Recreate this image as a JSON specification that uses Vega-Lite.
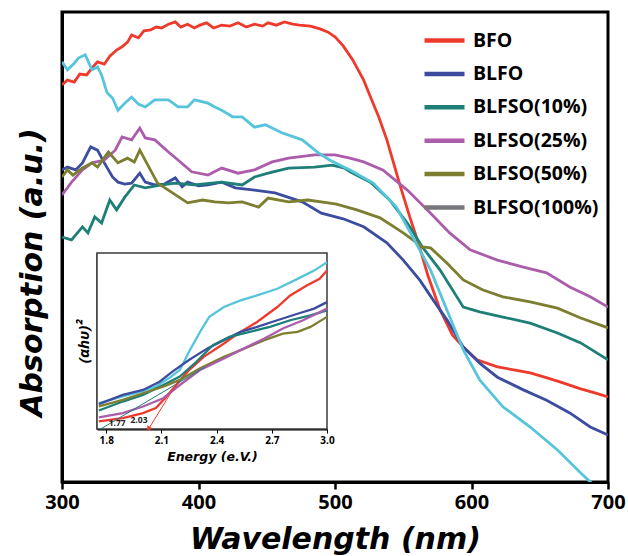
{
  "$schema": "https://vega.github.io/schema/vega-lite/v6.json",
  "width": 546,
  "height": 470,
  "autosize": "none",
  "padding": {"left": 62, "top": 12, "right": 20, "bottom": 74},
  "background": "white",
  "config": {
    "view": {"stroke": "black", "strokeWidth": 3},
    "font": "Open Sans",
    "axis": {"grid": false, "labelColor": "black", "titleColor": "black"}
  },
  "datasets": {
    "main": [
      {"s": "BFO", "w": 300, "a": 84.5}, {"s": "BFO", "w": 304, "a": 85.5}, {"s": "BFO", "w": 309, "a": 85.1}, {"s": "BFO", "w": 313, "a": 86.8}, {"s": "BFO", "w": 318, "a": 86.6}, {"s": "BFO", "w": 322, "a": 88.1}, {"s": "BFO", "w": 326, "a": 89.4}, {"s": "BFO", "w": 331, "a": 88.9}, {"s": "BFO", "w": 335, "a": 90.6}, {"s": "BFO", "w": 340, "a": 91.9}, {"s": "BFO", "w": 344, "a": 92.6}, {"s": "BFO", "w": 348, "a": 93.6}, {"s": "BFO", "w": 351, "a": 95.1}, {"s": "BFO", "w": 356, "a": 94.5}, {"s": "BFO", "w": 360, "a": 96.0}, {"s": "BFO", "w": 365, "a": 96.2}, {"s": "BFO", "w": 369, "a": 96.8}, {"s": "BFO", "w": 373, "a": 96.6}, {"s": "BFO", "w": 378, "a": 97.4}, {"s": "BFO", "w": 383, "a": 97.9}, {"s": "BFO", "w": 387, "a": 96.8}, {"s": "BFO", "w": 392, "a": 97.4}, {"s": "BFO", "w": 397, "a": 96.6}, {"s": "BFO", "w": 401, "a": 97.2}, {"s": "BFO", "w": 406, "a": 97.7}, {"s": "BFO", "w": 411, "a": 96.6}, {"s": "BFO", "w": 417, "a": 97.2}, {"s": "BFO", "w": 423, "a": 97.0}, {"s": "BFO", "w": 429, "a": 97.7}, {"s": "BFO", "w": 435, "a": 96.8}, {"s": "BFO", "w": 441, "a": 97.4}, {"s": "BFO", "w": 447, "a": 97.0}, {"s": "BFO", "w": 451, "a": 97.7}, {"s": "BFO", "w": 457, "a": 97.2}, {"s": "BFO", "w": 463, "a": 97.9}, {"s": "BFO", "w": 469, "a": 97.4}, {"s": "BFO", "w": 474, "a": 97.2}, {"s": "BFO", "w": 482, "a": 97.0}, {"s": "BFO", "w": 489, "a": 96.4}, {"s": "BFO", "w": 495, "a": 95.7}, {"s": "BFO", "w": 500, "a": 94.7}, {"s": "BFO", "w": 506, "a": 92.8}, {"s": "BFO", "w": 513, "a": 89.8}, {"s": "BFO", "w": 521, "a": 85.5}, {"s": "BFO", "w": 526, "a": 81.9}, {"s": "BFO", "w": 532, "a": 77.7}, {"s": "BFO", "w": 538, "a": 72.8}, {"s": "BFO", "w": 548, "a": 62.8}, {"s": "BFO", "w": 555, "a": 56.2}, {"s": "BFO", "w": 561, "a": 50.9}, {"s": "BFO", "w": 568, "a": 44.0}, {"s": "BFO", "w": 577, "a": 36.6}, {"s": "BFO", "w": 586, "a": 31.3}, {"s": "BFO", "w": 594, "a": 28.7}, {"s": "BFO", "w": 604, "a": 26.0}, {"s": "BFO", "w": 619, "a": 24.5}, {"s": "BFO", "w": 632, "a": 23.8}, {"s": "BFO", "w": 643, "a": 23.2}, {"s": "BFO", "w": 656, "a": 22.1}, {"s": "BFO", "w": 667, "a": 21.1}, {"s": "BFO", "w": 680, "a": 19.8}, {"s": "BFO", "w": 691, "a": 18.9}, {"s": "BFO", "w": 700, "a": 18.1},
      {"s": "BLFO", "w": 300, "a": 66.4}, {"s": "BLFO", "w": 304, "a": 67.0}, {"s": "BLFO", "w": 310, "a": 66.4}, {"s": "BLFO", "w": 315, "a": 67.9}, {"s": "BLFO", "w": 321, "a": 71.3}, {"s": "BLFO", "w": 326, "a": 70.6}, {"s": "BLFO", "w": 331, "a": 67.9}, {"s": "BLFO", "w": 337, "a": 64.9}, {"s": "BLFO", "w": 341, "a": 63.8}, {"s": "BLFO", "w": 346, "a": 63.4}, {"s": "BLFO", "w": 351, "a": 63.6}, {"s": "BLFO", "w": 357, "a": 65.7}, {"s": "BLFO", "w": 361, "a": 63.8}, {"s": "BLFO", "w": 368, "a": 63.2}, {"s": "BLFO", "w": 375, "a": 63.4}, {"s": "BLFO", "w": 383, "a": 64.7}, {"s": "BLFO", "w": 388, "a": 62.8}, {"s": "BLFO", "w": 392, "a": 63.8}, {"s": "BLFO", "w": 400, "a": 63.0}, {"s": "BLFO", "w": 407, "a": 63.2}, {"s": "BLFO", "w": 417, "a": 63.8}, {"s": "BLFO", "w": 427, "a": 62.6}, {"s": "BLFO", "w": 441, "a": 62.1}, {"s": "BLFO", "w": 456, "a": 61.5}, {"s": "BLFO", "w": 476, "a": 59.6}, {"s": "BLFO", "w": 490, "a": 57.2}, {"s": "BLFO", "w": 506, "a": 56.0}, {"s": "BLFO", "w": 521, "a": 54.3}, {"s": "BLFO", "w": 538, "a": 50.9}, {"s": "BLFO", "w": 550, "a": 47.2}, {"s": "BLFO", "w": 562, "a": 43.0}, {"s": "BLFO", "w": 572, "a": 38.7}, {"s": "BLFO", "w": 582, "a": 34.5}, {"s": "BLFO", "w": 594, "a": 28.7}, {"s": "BLFO", "w": 606, "a": 25.3}, {"s": "BLFO", "w": 619, "a": 22.3}, {"s": "BLFO", "w": 638, "a": 19.6}, {"s": "BLFO", "w": 655, "a": 17.4}, {"s": "BLFO", "w": 672, "a": 14.7}, {"s": "BLFO", "w": 687, "a": 11.7}, {"s": "BLFO", "w": 700, "a": 10.0},
      {"s": "BLFSO(10%)", "w": 300, "a": 52.1}, {"s": "BLFSO(10%)", "w": 307, "a": 51.5}, {"s": "BLFSO(10%)", "w": 315, "a": 54.3}, {"s": "BLFSO(10%)", "w": 319, "a": 53.0}, {"s": "BLFSO(10%)", "w": 324, "a": 56.4}, {"s": "BLFSO(10%)", "w": 329, "a": 55.1}, {"s": "BLFSO(10%)", "w": 335, "a": 60.0}, {"s": "BLFSO(10%)", "w": 340, "a": 57.9}, {"s": "BLFSO(10%)", "w": 346, "a": 60.6}, {"s": "BLFSO(10%)", "w": 353, "a": 63.2}, {"s": "BLFSO(10%)", "w": 361, "a": 62.6}, {"s": "BLFSO(10%)", "w": 373, "a": 63.2}, {"s": "BLFSO(10%)", "w": 383, "a": 63.6}, {"s": "BLFSO(10%)", "w": 397, "a": 63.2}, {"s": "BLFSO(10%)", "w": 417, "a": 63.8}, {"s": "BLFSO(10%)", "w": 432, "a": 63.2}, {"s": "BLFSO(10%)", "w": 441, "a": 64.9}, {"s": "BLFSO(10%)", "w": 451, "a": 65.7}, {"s": "BLFSO(10%)", "w": 466, "a": 66.8}, {"s": "BLFSO(10%)", "w": 485, "a": 67.0}, {"s": "BLFSO(10%)", "w": 498, "a": 67.4}, {"s": "BLFSO(10%)", "w": 507, "a": 66.8}, {"s": "BLFSO(10%)", "w": 511, "a": 66.0}, {"s": "BLFSO(10%)", "w": 526, "a": 63.8}, {"s": "BLFSO(10%)", "w": 540, "a": 60.0}, {"s": "BLFSO(10%)", "w": 553, "a": 55.1}, {"s": "BLFSO(10%)", "w": 564, "a": 50.0}, {"s": "BLFSO(10%)", "w": 577, "a": 45.1}, {"s": "BLFSO(10%)", "w": 594, "a": 37.2}, {"s": "BLFSO(10%)", "w": 606, "a": 36.2}, {"s": "BLFSO(10%)", "w": 623, "a": 35.1}, {"s": "BLFSO(10%)", "w": 643, "a": 33.8}, {"s": "BLFSO(10%)", "w": 663, "a": 31.7}, {"s": "BLFSO(10%)", "w": 680, "a": 29.6}, {"s": "BLFSO(10%)", "w": 700, "a": 26.0},
      {"s": "BLFSO(25%)", "w": 300, "a": 61.1}, {"s": "BLFSO(25%)", "w": 304, "a": 62.6}, {"s": "BLFSO(25%)", "w": 307, "a": 63.8}, {"s": "BLFSO(25%)", "w": 315, "a": 66.4}, {"s": "BLFSO(25%)", "w": 322, "a": 67.9}, {"s": "BLFSO(25%)", "w": 331, "a": 68.5}, {"s": "BLFSO(25%)", "w": 339, "a": 70.6}, {"s": "BLFSO(25%)", "w": 344, "a": 73.4}, {"s": "BLFSO(25%)", "w": 351, "a": 72.8}, {"s": "BLFSO(25%)", "w": 357, "a": 75.3}, {"s": "BLFSO(25%)", "w": 361, "a": 73.2}, {"s": "BLFSO(25%)", "w": 368, "a": 72.8}, {"s": "BLFSO(25%)", "w": 378, "a": 70.2}, {"s": "BLFSO(25%)", "w": 385, "a": 68.5}, {"s": "BLFSO(25%)", "w": 395, "a": 66.0}, {"s": "BLFSO(25%)", "w": 407, "a": 65.3}, {"s": "BLFSO(25%)", "w": 417, "a": 66.8}, {"s": "BLFSO(25%)", "w": 429, "a": 65.7}, {"s": "BLFSO(25%)", "w": 441, "a": 66.4}, {"s": "BLFSO(25%)", "w": 454, "a": 68.1}, {"s": "BLFSO(25%)", "w": 466, "a": 68.9}, {"s": "BLFSO(25%)", "w": 485, "a": 69.6}, {"s": "BLFSO(25%)", "w": 500, "a": 69.6}, {"s": "BLFSO(25%)", "w": 511, "a": 68.9}, {"s": "BLFSO(25%)", "w": 521, "a": 68.1}, {"s": "BLFSO(25%)", "w": 535, "a": 66.4}, {"s": "BLFSO(25%)", "w": 553, "a": 62.1}, {"s": "BLFSO(25%)", "w": 570, "a": 57.2}, {"s": "BLFSO(25%)", "w": 584, "a": 53.0}, {"s": "BLFSO(25%)", "w": 599, "a": 49.4}, {"s": "BLFSO(25%)", "w": 619, "a": 47.2}, {"s": "BLFSO(25%)", "w": 638, "a": 45.7}, {"s": "BLFSO(25%)", "w": 655, "a": 44.5}, {"s": "BLFSO(25%)", "w": 672, "a": 41.5}, {"s": "BLFSO(25%)", "w": 687, "a": 39.4}, {"s": "BLFSO(25%)", "w": 700, "a": 37.2},
      {"s": "BLFSO(50%)", "w": 300, "a": 64.9}, {"s": "BLFSO(50%)", "w": 304, "a": 66.4}, {"s": "BLFSO(50%)", "w": 308, "a": 65.3}, {"s": "BLFSO(50%)", "w": 315, "a": 66.8}, {"s": "BLFSO(50%)", "w": 322, "a": 67.9}, {"s": "BLFSO(50%)", "w": 326, "a": 67.0}, {"s": "BLFSO(50%)", "w": 334, "a": 70.2}, {"s": "BLFSO(50%)", "w": 341, "a": 67.9}, {"s": "BLFSO(50%)", "w": 348, "a": 68.9}, {"s": "BLFSO(50%)", "w": 353, "a": 68.1}, {"s": "BLFSO(50%)", "w": 357, "a": 70.6}, {"s": "BLFSO(50%)", "w": 362, "a": 67.9}, {"s": "BLFSO(50%)", "w": 370, "a": 63.6}, {"s": "BLFSO(50%)", "w": 381, "a": 61.5}, {"s": "BLFSO(50%)", "w": 392, "a": 59.4}, {"s": "BLFSO(50%)", "w": 403, "a": 60.0}, {"s": "BLFSO(50%)", "w": 412, "a": 59.6}, {"s": "BLFSO(50%)", "w": 422, "a": 59.4}, {"s": "BLFSO(50%)", "w": 432, "a": 59.6}, {"s": "BLFSO(50%)", "w": 444, "a": 58.5}, {"s": "BLFSO(50%)", "w": 451, "a": 60.4}, {"s": "BLFSO(50%)", "w": 466, "a": 59.6}, {"s": "BLFSO(50%)", "w": 480, "a": 60.0}, {"s": "BLFSO(50%)", "w": 495, "a": 59.4}, {"s": "BLFSO(50%)", "w": 501, "a": 59.1}, {"s": "BLFSO(50%)", "w": 516, "a": 57.9}, {"s": "BLFSO(50%)", "w": 533, "a": 56.2}, {"s": "BLFSO(50%)", "w": 550, "a": 53.0}, {"s": "BLFSO(50%)", "w": 564, "a": 50.0}, {"s": "BLFSO(50%)", "w": 570, "a": 49.8}, {"s": "BLFSO(50%)", "w": 582, "a": 46.6}, {"s": "BLFSO(50%)", "w": 594, "a": 43.0}, {"s": "BLFSO(50%)", "w": 608, "a": 40.9}, {"s": "BLFSO(50%)", "w": 623, "a": 39.4}, {"s": "BLFSO(50%)", "w": 643, "a": 38.3}, {"s": "BLFSO(50%)", "w": 663, "a": 37.0}, {"s": "BLFSO(50%)", "w": 680, "a": 34.9}, {"s": "BLFSO(50%)", "w": 700, "a": 32.8},
      {"s": "BLFSO(100%)", "w": 300, "a": 89.4}, {"s": "BLFSO(100%)", "w": 304, "a": 87.7}, {"s": "BLFSO(100%)", "w": 309, "a": 89.1}, {"s": "BLFSO(100%)", "w": 312, "a": 90.2}, {"s": "BLFSO(100%)", "w": 317, "a": 90.9}, {"s": "BLFSO(100%)", "w": 322, "a": 87.7}, {"s": "BLFSO(100%)", "w": 326, "a": 88.3}, {"s": "BLFSO(100%)", "w": 329, "a": 86.6}, {"s": "BLFSO(100%)", "w": 333, "a": 82.8}, {"s": "BLFSO(100%)", "w": 337, "a": 81.7}, {"s": "BLFSO(100%)", "w": 341, "a": 79.1}, {"s": "BLFSO(100%)", "w": 346, "a": 80.6}, {"s": "BLFSO(100%)", "w": 351, "a": 81.9}, {"s": "BLFSO(100%)", "w": 356, "a": 80.4}, {"s": "BLFSO(100%)", "w": 361, "a": 79.8}, {"s": "BLFSO(100%)", "w": 368, "a": 81.3}, {"s": "BLFSO(100%)", "w": 378, "a": 81.3}, {"s": "BLFSO(100%)", "w": 385, "a": 79.8}, {"s": "BLFSO(100%)", "w": 392, "a": 79.8}, {"s": "BLFSO(100%)", "w": 397, "a": 81.3}, {"s": "BLFSO(100%)", "w": 407, "a": 80.6}, {"s": "BLFSO(100%)", "w": 412, "a": 79.8}, {"s": "BLFSO(100%)", "w": 417, "a": 79.1}, {"s": "BLFSO(100%)", "w": 425, "a": 77.7}, {"s": "BLFSO(100%)", "w": 432, "a": 77.7}, {"s": "BLFSO(100%)", "w": 441, "a": 75.5}, {"s": "BLFSO(100%)", "w": 449, "a": 76.0}, {"s": "BLFSO(100%)", "w": 461, "a": 74.3}, {"s": "BLFSO(100%)", "w": 476, "a": 72.8}, {"s": "BLFSO(100%)", "w": 488, "a": 70.0}, {"s": "BLFSO(100%)", "w": 496, "a": 68.5}, {"s": "BLFSO(100%)", "w": 511, "a": 66.4}, {"s": "BLFSO(100%)", "w": 528, "a": 63.6}, {"s": "BLFSO(100%)", "w": 545, "a": 58.5}, {"s": "BLFSO(100%)", "w": 557, "a": 52.1}, {"s": "BLFSO(100%)", "w": 570, "a": 45.1}, {"s": "BLFSO(100%)", "w": 582, "a": 36.6}, {"s": "BLFSO(100%)", "w": 594, "a": 28.1}, {"s": "BLFSO(100%)", "w": 606, "a": 21.7}, {"s": "BLFSO(100%)", "w": 623, "a": 16.0}, {"s": "BLFSO(100%)", "w": 643, "a": 11.7}, {"s": "BLFSO(100%)", "w": 663, "a": 6.8}, {"s": "BLFSO(100%)", "w": 680, "a": 1.9}, {"s": "BLFSO(100%)", "w": 692, "a": -1.3}
    ],
    "inset": [
      {"s": "BLFSO(100%)", "e": 1.76, "v": 0.147}, {"s": "BLFSO(100%)", "e": 1.89, "v": 0.185}, {"s": "BLFSO(100%)", "e": 2.0, "v": 0.215}, {"s": "BLFSO(100%)", "e": 2.07, "v": 0.241}, {"s": "BLFSO(100%)", "e": 2.14, "v": 0.288}, {"s": "BLFSO(100%)", "e": 2.2, "v": 0.335}, {"s": "BLFSO(100%)", "e": 2.25, "v": 0.439}, {"s": "BLFSO(100%)", "e": 2.31, "v": 0.552}, {"s": "BLFSO(100%)", "e": 2.36, "v": 0.637}, {"s": "BLFSO(100%)", "e": 2.44, "v": 0.693}, {"s": "BLFSO(100%)", "e": 2.53, "v": 0.731}, {"s": "BLFSO(100%)", "e": 2.62, "v": 0.759}, {"s": "BLFSO(100%)", "e": 2.73, "v": 0.797}, {"s": "BLFSO(100%)", "e": 2.84, "v": 0.853}, {"s": "BLFSO(100%)", "e": 2.93, "v": 0.9}, {"s": "BLFSO(100%)", "e": 3.0, "v": 0.947},
      {"s": "BFO", "e": 1.76, "v": 0.043}, {"s": "BFO", "e": 1.89, "v": 0.062}, {"s": "BFO", "e": 2.0, "v": 0.09}, {"s": "BFO", "e": 2.07, "v": 0.119}, {"s": "BFO", "e": 2.12, "v": 0.175}, {"s": "BFO", "e": 2.18, "v": 0.25}, {"s": "BFO", "e": 2.25, "v": 0.335}, {"s": "BFO", "e": 2.33, "v": 0.41}, {"s": "BFO", "e": 2.44, "v": 0.486}, {"s": "BFO", "e": 2.53, "v": 0.552}, {"s": "BFO", "e": 2.62, "v": 0.608}, {"s": "BFO", "e": 2.73, "v": 0.693}, {"s": "BFO", "e": 2.8, "v": 0.759}, {"s": "BFO", "e": 2.89, "v": 0.815}, {"s": "BFO", "e": 2.96, "v": 0.853}, {"s": "BFO", "e": 3.0, "v": 0.9},
      {"s": "BLFO", "e": 1.76, "v": 0.141}, {"s": "BLFO", "e": 1.89, "v": 0.194}, {"s": "BLFO", "e": 2.0, "v": 0.222}, {"s": "BLFO", "e": 2.09, "v": 0.269}, {"s": "BLFO", "e": 2.16, "v": 0.326}, {"s": "BLFO", "e": 2.25, "v": 0.392}, {"s": "BLFO", "e": 2.35, "v": 0.458}, {"s": "BLFO", "e": 2.44, "v": 0.505}, {"s": "BLFO", "e": 2.53, "v": 0.552}, {"s": "BLFO", "e": 2.62, "v": 0.58}, {"s": "BLFO", "e": 2.73, "v": 0.618}, {"s": "BLFO", "e": 2.84, "v": 0.655}, {"s": "BLFO", "e": 2.93, "v": 0.684}, {"s": "BLFO", "e": 3.0, "v": 0.721},
      {"s": "BLFSO(10%)", "e": 1.76, "v": 0.105}, {"s": "BLFSO(10%)", "e": 1.89, "v": 0.156}, {"s": "BLFSO(10%)", "e": 2.0, "v": 0.194}, {"s": "BLFSO(10%)", "e": 2.11, "v": 0.25}, {"s": "BLFSO(10%)", "e": 2.2, "v": 0.298}, {"s": "BLFSO(10%)", "e": 2.29, "v": 0.382}, {"s": "BLFSO(10%)", "e": 2.38, "v": 0.476}, {"s": "BLFSO(10%)", "e": 2.47, "v": 0.524}, {"s": "BLFSO(10%)", "e": 2.58, "v": 0.552}, {"s": "BLFSO(10%)", "e": 2.69, "v": 0.58}, {"s": "BLFSO(10%)", "e": 2.8, "v": 0.618}, {"s": "BLFSO(10%)", "e": 2.91, "v": 0.646}, {"s": "BLFSO(10%)", "e": 3.0, "v": 0.674},
      {"s": "BLFSO(50%)", "e": 1.76, "v": 0.128}, {"s": "BLFSO(50%)", "e": 1.89, "v": 0.166}, {"s": "BLFSO(50%)", "e": 2.0, "v": 0.203}, {"s": "BLFSO(50%)", "e": 2.11, "v": 0.241}, {"s": "BLFSO(50%)", "e": 2.2, "v": 0.279}, {"s": "BLFSO(50%)", "e": 2.31, "v": 0.345}, {"s": "BLFSO(50%)", "e": 2.44, "v": 0.41}, {"s": "BLFSO(50%)", "e": 2.53, "v": 0.448}, {"s": "BLFSO(50%)", "e": 2.66, "v": 0.505}, {"s": "BLFSO(50%)", "e": 2.76, "v": 0.542}, {"s": "BLFSO(50%)", "e": 2.84, "v": 0.552}, {"s": "BLFSO(50%)", "e": 2.91, "v": 0.58}, {"s": "BLFSO(50%)", "e": 3.0, "v": 0.637},
      {"s": "BLFSO(25%)", "e": 1.76, "v": 0.066}, {"s": "BLFSO(25%)", "e": 1.89, "v": 0.09}, {"s": "BLFSO(25%)", "e": 2.0, "v": 0.128}, {"s": "BLFSO(25%)", "e": 2.11, "v": 0.175}, {"s": "BLFSO(25%)", "e": 2.2, "v": 0.25}, {"s": "BLFSO(25%)", "e": 2.31, "v": 0.335}, {"s": "BLFSO(25%)", "e": 2.44, "v": 0.401}, {"s": "BLFSO(25%)", "e": 2.53, "v": 0.448}, {"s": "BLFSO(25%)", "e": 2.66, "v": 0.514}, {"s": "BLFSO(25%)", "e": 2.76, "v": 0.571}, {"s": "BLFSO(25%)", "e": 2.87, "v": 0.618}, {"s": "BLFSO(25%)", "e": 3.0, "v": 0.684}
    ],
    "tangents": [
      {"s": "BLFSO(10%)", "e": 1.77, "v": 0}, {"s": "BLFSO(10%)", "e": 2.34, "v": 0.354},
      {"s": "BFO", "e": 2.03, "v": 0}, {"s": "BFO", "e": 2.19, "v": 0.27}
    ],
    "gaps": [
      {"lab": "1.77", "e": 1.77}, {"lab": "2.03", "e": 2.03}
    ]
  },
  "layer": [
    {
      "layer": [
        {
          "data": {"name": "main"},
          "mark": {"type": "line", "strokeWidth": 2.8, "clip": true},
          "encoding": {
            "x": {"field": "w", "type": "quantitative",
              "scale": {"domain": [300, 700], "nice": false, "zero": false},
              "axis": {"values": [300, 400, 500, 600, 700], "format": "d", "labelFontSize": 20, "labelFontWeight": "bold", "labelPadding": 3, "labelFlush": false, "tickSize": 7, "tickWidth": 2.5, "tickColor": "black", "domainColor": "black", "domainWidth": 3, "title": "Wavelength (nm)", "titleFont": "DejaVu Sans", "titleFontSize": 30, "titleFontWeight": "bold", "titleFontStyle": "italic", "titleBaseline": "bottom", "titleY": 72}},
            "y": {"field": "a", "type": "quantitative",
              "scale": {"domain": [0, 100], "nice": false},
              "axis": {"labels": false, "ticks": false, "domainColor": "black", "domainWidth": 3, "title": "Absorption (a.u.)", "titleFont": "DejaVu Sans", "titleFontSize": 30, "titleFontWeight": "bold", "titleFontStyle": "italic", "titleBaseline": "bottom", "titleX": -15, "titleY": 260}},
            "color": {"field": "s", "type": "nominal",
              "scale": {"domain": ["BFO", "BLFO", "BLFSO(10%)", "BLFSO(25%)", "BLFSO(50%)", "BLFSO(100%)"], "range": ["#ee3a2d", "#3c4da0", "#1d7f78", "#ab5dab", "#7c7e30", "#56c4db"]},
              "legend": null}
          }
        },
        {
          "data": {"name": "main"},
          "transform": [{"filter": "false"}],
          "mark": {"type": "line", "strokeWidth": 4},
          "encoding": {
            "x": {"field": "w", "type": "quantitative"},
            "y": {"field": "a", "type": "quantitative"},
            "color": {"field": "s", "type": "nominal",
              "scale": {"domain": ["BFO", "BLFO", "BLFSO(10%)", "BLFSO(25%)", "BLFSO(50%)", "BLFSO(100%)"], "range": ["#ee3a2d", "#3c4da0", "#1d7f78", "#ab5dab", "#7c7e30", "#77777b"]},
              "legend": {"orient": "none", "legendX": 360, "legendY": 16, "title": null, "padding": 0, "symbolType": "M-1,0H3", "symbolSize": 400, "symbolStrokeWidth": 4.5, "labelFontSize": 19.5, "labelFontWeight": "bold", "labelColor": "black", "labelOffset": 26, "rowPadding": 11.4}}
          }
        }
      ],
      "resolve": {"scale": {"color": "independent"}}
    },
    {
      "layer": [
        {
          "data": {"values": [{}]},
          "mark": {"type": "rect", "fill": "white", "stroke": "#3a3a3a", "strokeWidth": 1.5},
          "encoding": {
            "x": {"datum": 1.75, "type": "quantitative"},
            "x2": {"datum": 3.0},
            "y": {"datum": 0, "type": "quantitative"},
            "y2": {"datum": 1}
          }
        },
        {
          "data": {"name": "inset"},
          "mark": {"type": "line", "strokeWidth": 2.3},
          "encoding": {
            "x": {"field": "e", "type": "quantitative",
              "scale": {"domain": [1.75, 3.0], "range": [35, 265], "nice": false, "zero": false},
              "axis": {"orient": "bottom", "offset": -53, "values": [1.8, 2.1, 2.4, 2.7, 3.0], "format": ".1f", "labelFontSize": 10, "labelFontWeight": "bold", "labelPadding": 2, "labelFlush": false, "tickSize": 4, "tickColor": "black", "domainColor": "black", "domainWidth": 2, "title": "Energy (e.V.)", "titleFont": "DejaVu Sans", "titleFontSize": 12.5, "titleFontWeight": "bold", "titleFontStyle": "italic", "titlePadding": 5}},
            "y": {"field": "v", "type": "quantitative",
              "scale": {"domain": [0, 1], "range": [417, 241], "nice": false, "zero": false},
              "axis": {"orient": "left", "offset": -35, "labels": false, "ticks": false, "domainColor": "black", "domainWidth": 2, "title": "(αhυ)²", "titleFontSize": 15, "titleFontWeight": "bold", "titleFontStyle": "italic", "titlePadding": 6}},
            "color": {"field": "s", "type": "nominal",
              "scale": {"domain": ["BFO", "BLFO", "BLFSO(10%)", "BLFSO(25%)", "BLFSO(50%)", "BLFSO(100%)"], "range": ["#ee3a2d", "#3c4da0", "#1d7f78", "#ab5dab", "#7c7e30", "#56c4db"]},
              "legend": null}
          }
        },
        {
          "data": {"name": "tangents"},
          "mark": {"type": "line", "strokeWidth": 1},
          "encoding": {
            "x": {"field": "e", "type": "quantitative"},
            "y": {"field": "v", "type": "quantitative"},
            "color": {"field": "s", "type": "nominal", "legend": null}
          }
        },
        {
          "data": {"name": "tangents"},
          "transform": [{"filter": "datum.s == 'BFO' && datum.v == 0"}],
          "mark": {"type": "point", "shape": "triangle-down", "filled": true, "size": 35, "angle": 31, "opacity": 1, "color": "#ee3a2d"},
          "encoding": {
            "x": {"field": "e", "type": "quantitative"},
            "y": {"field": "v", "type": "quantitative"}
          }
        },
        {
          "data": {"name": "gaps"},
          "transform": [{"filter": "datum.lab == '1.77'"}],
          "mark": {"type": "text", "fontSize": 8.5, "fontWeight": "bold", "align": "left", "baseline": "bottom", "dx": 8, "dy": -1, "color": "#222"},
          "encoding": {
            "x": {"field": "e", "type": "quantitative"},
            "y": {"datum": 0, "type": "quantitative"},
            "text": {"field": "lab"}
          }
        },
        {
          "data": {"name": "gaps"},
          "transform": [{"filter": "datum.lab == '2.03'"}],
          "mark": {"type": "text", "fontSize": 8.5, "fontWeight": "bold", "align": "right", "baseline": "bottom", "dx": -1, "dy": -4, "color": "#222"},
          "encoding": {
            "x": {"field": "e", "type": "quantitative"},
            "y": {"datum": 0, "type": "quantitative"},
            "text": {"field": "lab"}
          }
        }
      ]
    }
  ],
  "resolve": {"scale": {"x": "independent", "y": "independent", "color": "independent"}}
}
